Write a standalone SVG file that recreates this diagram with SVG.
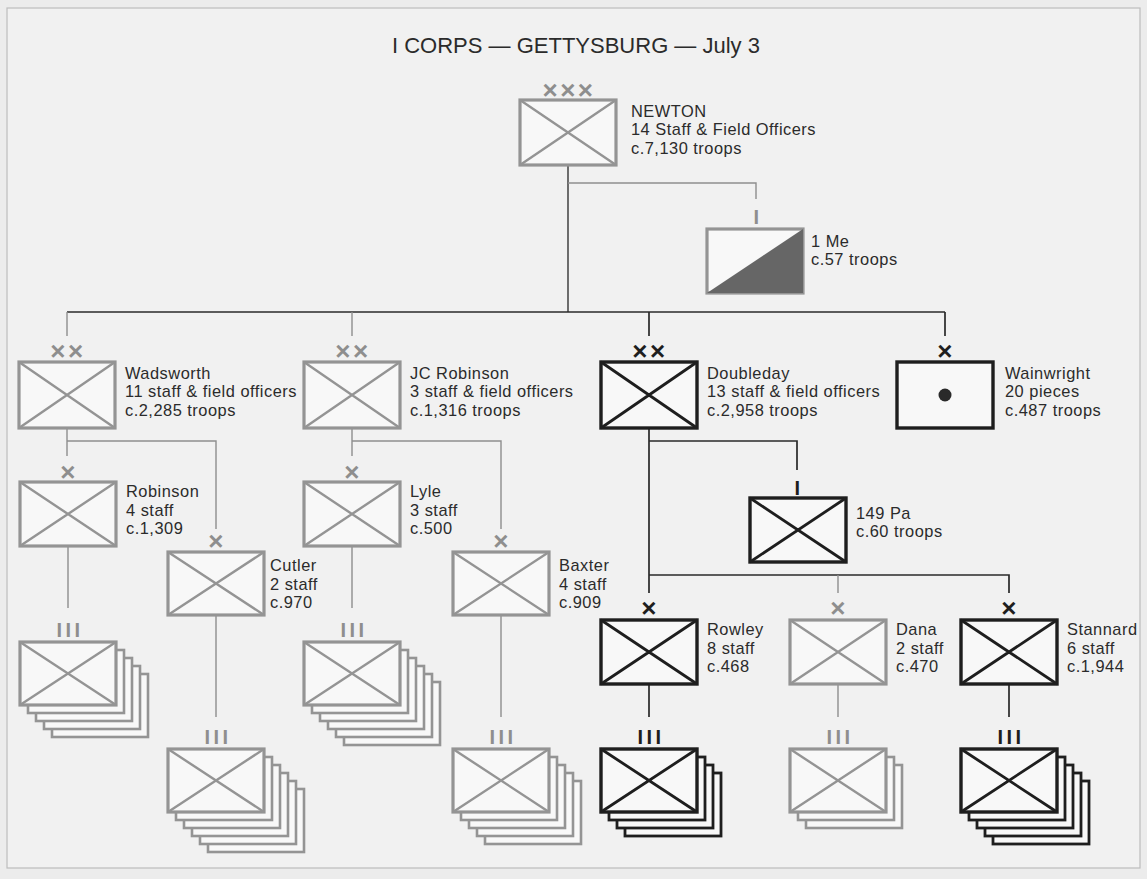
<svg xmlns="http://www.w3.org/2000/svg" width="1147" height="879" viewBox="0 0 1147 879">
<style>
.bg{fill:#ececec}
.frame{fill:#f1f1f1;stroke:#bdbdbd;stroke-width:1.2}
.g{fill:#f8f8f8;stroke:#949494;stroke-width:3.2}
.gx{stroke:#949494;stroke-width:2.4;fill:none}
.k{fill:#f8f8f8;stroke:#1e1e1e;stroke-width:3.4}
.kx{stroke:#1e1e1e;stroke-width:2.8;fill:none}
.gs{fill:#f8f8f8;stroke:#949494;stroke-width:2.6}
.ks{fill:#f8f8f8;stroke:#1e1e1e;stroke-width:2.8}
.cg{stroke:#8e8e8e;stroke-width:1.4;fill:none}
.ck{stroke:#2a2a2a;stroke-width:1.7;fill:none}
.lbl{font-family:"Liberation Sans",Arial,sans-serif;font-size:16.4px;letter-spacing:0.5px;fill:#2b2b2b}
.title{font-family:"Liberation Sans",Arial,sans-serif;font-size:22px;fill:#2b2b2b}
.sz{font-family:"Liberation Sans",Arial,sans-serif;font-weight:bold;font-size:26px;letter-spacing:2.5px;text-anchor:middle}
.bar{font-family:"Liberation Sans",Arial,sans-serif;font-weight:bold;font-size:20px;letter-spacing:3.5px;text-anchor:middle}
.szg{fill:#8e8e8e}
.szk{fill:#1e1e1e}
</style>
<rect class="bg" x="0" y="0" width="1147" height="879"/>
<rect class="frame" x="7" y="8" width="1133" height="860"/>
<text class="title" x="392" y="53">I CORPS — GETTYSBURG — July 3</text>

<g id="connectors">
  <path class="ck" d="M568,165 V312" style="stroke:#555"/>
  <path class="cg" d="M568,183 H756 V199"/>
  <path class="ck" d="M67,312 H945"/>
  <path class="cg" d="M67,312 V336 M352,312 V336"/>
  <path class="ck" d="M649,312 V336 M945,312 V336"/>
  <path class="cg" d="M67,428 V456 M67,441 H216 V529"/>
  <path class="cg" d="M352,428 V456 M352,441 H501 V529"/>
  <path class="cg" d="M68,546 V608 M216,615 V717 M352,546 V608 M501,615 V717"/>
  <path class="ck" d="M649,428 V593 M649,441 H797 V470 M649,575 H1009 V593"/>
  <path class="cg" d="M838,575 V593"/>
  <path class="ck" d="M649,684 V717 M1009,684 V717"/>
  <path class="cg" d="M838,684 V717"/>
</g>

<g id="newton">
  <text class="sz szg" x="569" y="99">×××</text>
  <rect class="g" x="520" y="100" width="96" height="65"/>
  <path class="gx" d="M520,100 L616,165 M616,100 L520,165"/>
  <text class="lbl" x="631" y="116.5">NEWTON</text>
  <text class="lbl" x="631" y="135">14 Staff &amp; Field Officers</text>
  <text class="lbl" x="631" y="153.5">c.7,130 troops</text>
</g>

<g id="me1">
  <text class="bar szg" x="758" y="224">I</text>
  <rect class="g" x="707" y="229" width="96" height="64"/>
  <polygon points="707,293 803,229 803,293" fill="#666"/>
  <text class="lbl" x="811" y="246.5">1 Me</text>
  <text class="lbl" x="811" y="265">c.57 troops</text>
</g>

<g id="wadsworth">
  <text class="sz szg" x="68" y="360">××</text>
  <rect class="g" x="19" y="362" width="96" height="66"/>
  <path class="gx" d="M19,362 L115,428 M115,362 L19,428"/>
  <text class="lbl" x="125" y="378.5">Wadsworth</text>
  <text class="lbl" x="125" y="397">11 staff &amp; field officers</text>
  <text class="lbl" x="125" y="415.5">c.2,285 troops</text>
</g>

<g id="jcrobinson">
  <text class="sz szg" x="353" y="360">××</text>
  <rect class="g" x="304" y="362" width="96" height="66"/>
  <path class="gx" d="M304,362 L400,428 M400,362 L304,428"/>
  <text class="lbl" x="410" y="378.5">JC Robinson</text>
  <text class="lbl" x="410" y="397">3 staff &amp; field officers</text>
  <text class="lbl" x="410" y="415.5">c.1,316 troops</text>
</g>

<g id="doubleday">
  <text class="sz szk" x="650" y="360">××</text>
  <rect class="k" x="601" y="362" width="96" height="66"/>
  <path class="kx" d="M601,362 L697,428 M697,362 L601,428"/>
  <text class="lbl" x="707" y="378.5">Doubleday</text>
  <text class="lbl" x="707" y="397">13 staff &amp; field officers</text>
  <text class="lbl" x="707" y="415.5">c.2,958 troops</text>
</g>

<g id="wainwright">
  <text class="sz szk" x="946" y="360">×</text>
  <rect class="k" x="897" y="362" width="96" height="66"/>
  <circle cx="945" cy="395" r="6.5" fill="#2a2a2a"/>
  <text class="lbl" x="1005" y="378.5">Wainwright</text>
  <text class="lbl" x="1005" y="397">20 pieces</text>
  <text class="lbl" x="1005" y="415.5">c.487 troops</text>
</g>

<g id="robinson">
  <text class="sz szg" x="69" y="481">×</text>
  <rect class="g" x="20" y="482" width="96" height="64"/>
  <path class="gx" d="M20,482 L116,546 M116,482 L20,546"/>
  <text class="lbl" x="126" y="497">Robinson</text>
  <text class="lbl" x="126" y="515.5">4 staff</text>
  <text class="lbl" x="126" y="534">c.1,309</text>
</g>

<g id="cutler">
  <text class="sz szg" x="217" y="550">×</text>
  <rect class="g" x="168" y="552" width="96" height="63"/>
  <path class="gx" d="M168,552 L264,615 M264,552 L168,615"/>
  <text class="lbl" x="270" y="571">Cutler</text>
  <text class="lbl" x="270" y="589.5">2 staff</text>
  <text class="lbl" x="270" y="608">c.970</text>
</g>

<g id="lyle">
  <text class="sz szg" x="353" y="481">×</text>
  <rect class="g" x="304" y="482" width="96" height="64"/>
  <path class="gx" d="M304,482 L400,546 M400,482 L304,546"/>
  <text class="lbl" x="410" y="497">Lyle</text>
  <text class="lbl" x="410" y="515.5">3 staff</text>
  <text class="lbl" x="410" y="534">c.500</text>
</g>

<g id="baxter">
  <text class="sz szg" x="502" y="550">×</text>
  <rect class="g" x="453" y="552" width="96" height="63"/>
  <path class="gx" d="M453,552 L549,615 M549,552 L453,615"/>
  <text class="lbl" x="559" y="571">Baxter</text>
  <text class="lbl" x="559" y="589.5">4 staff</text>
  <text class="lbl" x="559" y="608">c.909</text>
</g>

<g id="pa149">
  <text class="bar szk" x="799" y="495">I</text>
  <rect class="k" x="750" y="498" width="96" height="64"/>
  <path class="kx" d="M750,498 L846,562 M846,498 L750,562"/>
  <text class="lbl" x="856" y="518.5">149 Pa</text>
  <text class="lbl" x="856" y="537">c.60 troops</text>
</g>

<g id="rowley">
  <text class="sz szk" x="650" y="617">×</text>
  <rect class="k" x="601" y="620" width="96" height="64"/>
  <path class="kx" d="M601,620 L697,684 M697,620 L601,684"/>
  <text class="lbl" x="707" y="635">Rowley</text>
  <text class="lbl" x="707" y="653.5">8 staff</text>
  <text class="lbl" x="707" y="672">c.468</text>
</g>

<g id="dana">
  <text class="sz szg" x="839" y="617">×</text>
  <rect class="g" x="790" y="620" width="96" height="64"/>
  <path class="gx" d="M790,620 L886,684 M886,620 L790,684"/>
  <text class="lbl" x="896" y="635">Dana</text>
  <text class="lbl" x="896" y="653.5">2 staff</text>
  <text class="lbl" x="896" y="672">c.470</text>
</g>

<g id="stannard">
  <text class="sz szk" x="1010" y="617">×</text>
  <rect class="k" x="961" y="620" width="96" height="64"/>
  <path class="kx" d="M961,620 L1057,684 M1057,620 L961,684"/>
  <text class="lbl" x="1067" y="635">Stannard</text>
  <text class="lbl" x="1067" y="653.5">6 staff</text>
  <text class="lbl" x="1067" y="672">c.1,944</text>
</g>

<g id="robinson-regts">
  <text class="bar szg" x="70" y="637">III</text>
  <rect class="gs" x="52" y="674" width="96" height="63"/>
  <rect class="gs" x="44" y="666" width="96" height="63"/>
  <rect class="gs" x="36" y="658" width="96" height="63"/>
  <rect class="gs" x="28" y="650" width="96" height="63"/>
  <rect class="g" x="20" y="642" width="96" height="63"/>
  <path class="gx" d="M20,642 L116,705 M116,642 L20,705"/>
</g>

<g id="cutler-regts">
  <text class="bar szg" x="218" y="744">III</text>
  <rect class="gs" x="208" y="789" width="96" height="63"/>
  <rect class="gs" x="200" y="781" width="96" height="63"/>
  <rect class="gs" x="192" y="773" width="96" height="63"/>
  <rect class="gs" x="184" y="765" width="96" height="63"/>
  <rect class="gs" x="176" y="757" width="96" height="63"/>
  <rect class="g" x="168" y="749" width="96" height="63"/>
  <path class="gx" d="M168,749 L264,812 M264,749 L168,812"/>
</g>

<g id="lyle-regts">
  <text class="bar szg" x="354" y="637">III</text>
  <rect class="gs" x="344" y="682" width="96" height="63"/>
  <rect class="gs" x="336" y="674" width="96" height="63"/>
  <rect class="gs" x="328" y="666" width="96" height="63"/>
  <rect class="gs" x="320" y="658" width="96" height="63"/>
  <rect class="gs" x="312" y="650" width="96" height="63"/>
  <rect class="g" x="304" y="642" width="96" height="63"/>
  <path class="gx" d="M304,642 L400,705 M400,642 L304,705"/>
</g>

<g id="baxter-regts">
  <text class="bar szg" x="503" y="744">III</text>
  <rect class="gs" x="485" y="781" width="96" height="63"/>
  <rect class="gs" x="477" y="773" width="96" height="63"/>
  <rect class="gs" x="469" y="765" width="96" height="63"/>
  <rect class="gs" x="461" y="757" width="96" height="63"/>
  <rect class="g" x="453" y="749" width="96" height="63"/>
  <path class="gx" d="M453,749 L549,812 M549,749 L453,812"/>
</g>

<g id="rowley-regts">
  <text class="bar szk" x="651" y="744">III</text>
  <rect class="ks" x="625" y="773" width="96" height="63"/>
  <rect class="ks" x="617" y="765" width="96" height="63"/>
  <rect class="ks" x="609" y="757" width="96" height="63"/>
  <rect class="k" x="601" y="749" width="96" height="63"/>
  <path class="kx" d="M601,749 L697,812 M697,749 L601,812"/>
</g>

<g id="dana-regts">
  <text class="bar szg" x="840" y="744">III</text>
  <rect class="gs" x="806" y="765" width="96" height="63"/>
  <rect class="gs" x="798" y="757" width="96" height="63"/>
  <rect class="g" x="790" y="749" width="96" height="63"/>
  <path class="gx" d="M790,749 L886,812 M886,749 L790,812"/>
</g>

<g id="stannard-regts">
  <text class="bar szk" x="1011" y="744">III</text>
  <rect class="ks" x="993" y="781" width="96" height="63"/>
  <rect class="ks" x="985" y="773" width="96" height="63"/>
  <rect class="ks" x="977" y="765" width="96" height="63"/>
  <rect class="ks" x="969" y="757" width="96" height="63"/>
  <rect class="k" x="961" y="749" width="96" height="63"/>
  <path class="kx" d="M961,749 L1057,812 M1057,749 L961,812"/>
</g>
</svg>
